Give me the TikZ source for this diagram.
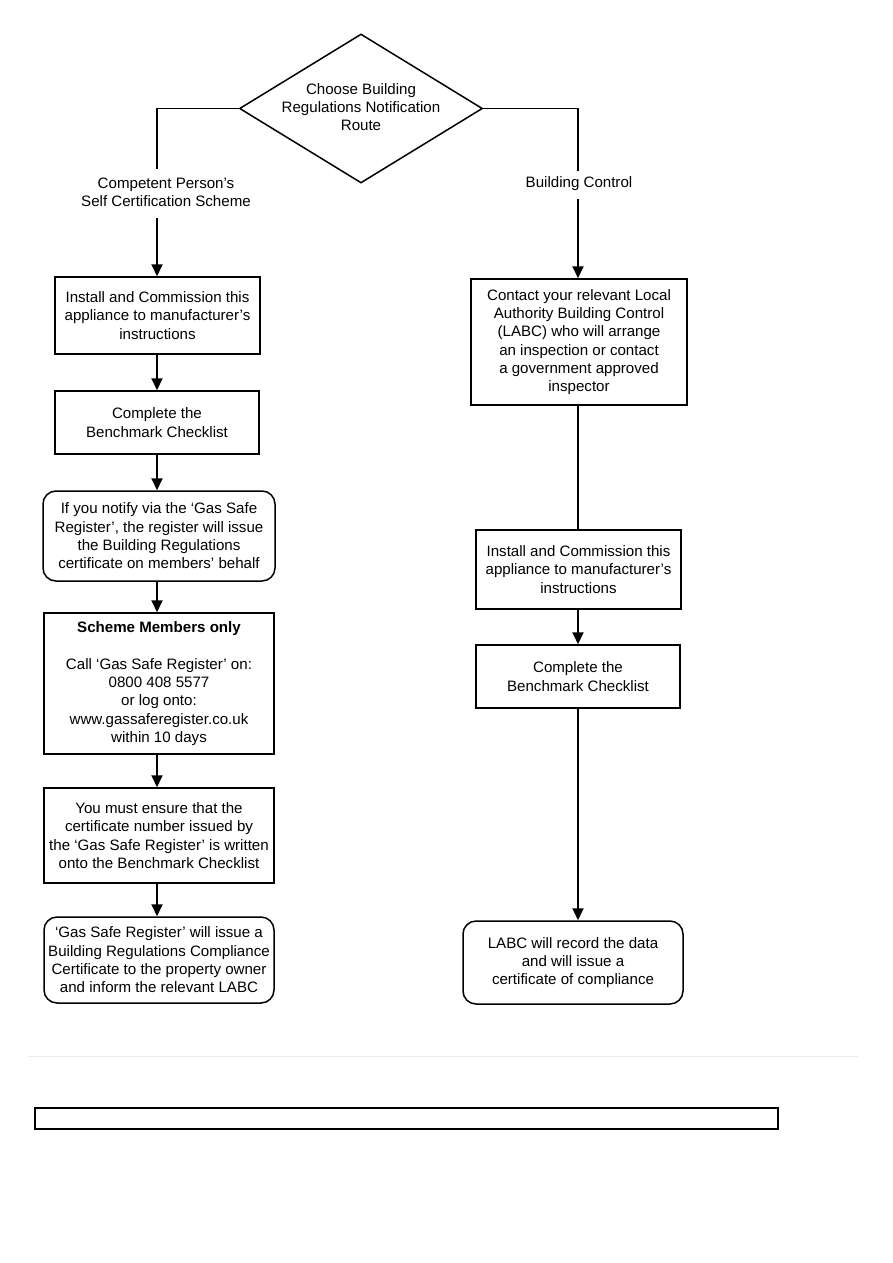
\documentclass[tikz,border=0pt]{standalone}
\usepackage{fontspec}
\setmainfont{Liberation Sans}
\usetikzlibrary{shapes.geometric,arrows.meta}
\begin{document}
\begin{tikzpicture}[x=1pt,y=-1pt,
  every node/.style={font=\fontsize{15.1}{18.3}\selectfont, align=center, inner sep=0pt},
  box/.style={draw, line width=1.5pt, rectangle},
  rbox/.style={draw, line width=1.5pt, rectangle, rounded corners=13pt},
  conn/.style={line width=1.9pt},
  arr/.style={line width=1.9pt, -{Triangle[length=12pt,width=11pt]}}]
\useasboundingbox (0,0) rectangle (893,1263);
% diamond
\node[draw, line width=1.5pt, diamond, aspect=1.63, minimum width=243pt, minimum height=149pt, inner sep=0pt] (dia) at (361,108.5) {};
\node (diat) at (361,107) {Choose Building\\Regulations Notification\\Route};
% labels
\node (lblL) at (166,192) {Competent Person's\\Self Certification Scheme};
\node (lblR) at (579,184) {Building Control};
\coordinate (lc) at (157,169);
\coordinate (lc2) at (157,218);
\coordinate (rc) at (578,171);
\coordinate (rc2) at (578,199);
% left column
\node[box, minimum width=205pt, minimum height=77pt] (b1) at (157.5,315.5) {Install and Commission this\\appliance to manufacturer's\\instructions};
\node[box, minimum width=204pt, minimum height=63pt] (b2) at (157,422.5) {Complete the\\Benchmark Checklist};
\node[rbox, minimum width=232pt, minimum height=90pt] (b3) at (159,536) {If you notify via the `Gas Safe\\Register', the register will issue\\the Building Regulations\\certificate on members' behalf};
\node[box, minimum width=230pt, minimum height=141pt] (b4) at (159,683.5) {\textbf{Scheme Members only}\\[18.3pt]Call `Gas Safe Register' on:\\0800 408 5577\\or log onto:\\www.gassaferegister.co.uk\\within 10 days};
\node[box, minimum width=230pt, minimum height=95pt] (b5) at (159,835.5) {You must ensure that the\\certificate number issued by\\the `Gas Safe Register' is written\\onto the Benchmark Checklist};
\node[rbox, minimum width=230pt, minimum height=86pt] (b6) at (159,960) {`Gas Safe Register' will issue a\\Building Regulations Compliance\\Certificate to the property owner\\and inform the relevant LABC};
% right column
\node[box, minimum width=216pt, minimum height=126pt] (r1) at (579,342) {Contact your relevant Local\\Authority Building Control\\(LABC) who will arrange\\an inspection or contact\\a government approved\\inspector};
\node[box, minimum width=205pt, minimum height=79pt] (r2) at (578.5,569.5) {Install and Commission this\\appliance to manufacturer's\\instructions};
\node[box, minimum width=204pt, minimum height=63pt] (r3) at (578,676.5) {Complete the\\Benchmark Checklist};
\node[rbox, minimum width=220pt, minimum height=83pt] (r4) at (573,962.5) {LABC will record the data\\and will issue a\\certificate of compliance};
% connectors
\draw[conn] (dia.west) -| (lc);
\draw[arr] (lc2) -- (lc2 |- b1.north);
\draw[arr] (b1.south -| lc2) -- (b2.north -| lc2);
\draw[arr] (b2.south -| lc2) -- (b3.north -| lc2);
\draw[arr] (b3.south -| lc2) -- (b4.north -| lc2);
\draw[arr] (b4.south -| lc2) -- (b5.north -| lc2);
\draw[arr] (b5.south -| lc2) -- (b6.north -| lc2);
\draw[conn] (dia.east) -| (rc);
\draw[arr] (rc2) -- (rc2 |- r1.north);
\draw[conn] (r1.south -| rc2) -- (r2.north -| rc2);
\draw[arr] (r2.south -| rc2) -- (r3.north -| rc2);
\draw[arr] (r3.south -| rc2) -- (r4.north -| rc2);
% bottom
\coordinate (hl1) at (28,1056);
\coordinate (hl2) at (858,1056);
\draw[line width=1pt, black!8] (hl1) -- (hl2);
\node[draw, line width=2pt, minimum width=743pt, minimum height=21pt] (bot) at (406.5,1118.5) {};
\end{tikzpicture}
\end{document}
